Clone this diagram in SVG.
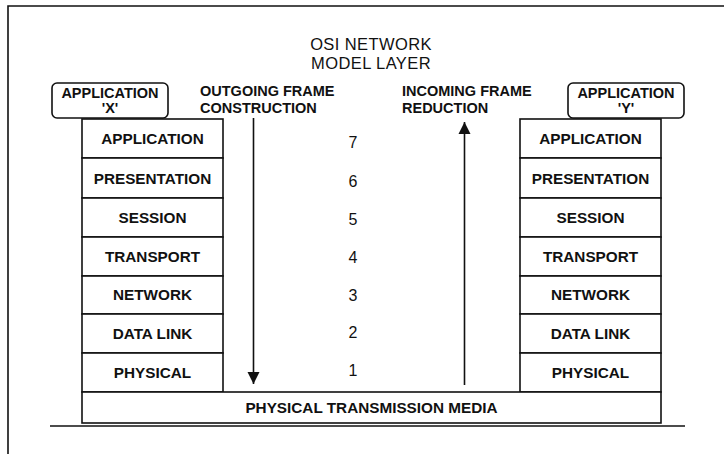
<svg xmlns="http://www.w3.org/2000/svg" width="724" height="454" viewBox="0 0 724 454">
<defs>
<style>
.box{fill:#fff;stroke:#111;stroke-width:1.6}
.ln{stroke:#111;stroke-width:1.6;fill:none}
.lbl{font-family:"Liberation Sans",Arial,sans-serif;font-weight:bold;font-size:15.3px;fill:#111;text-anchor:middle}
.app{font-family:"Liberation Sans",Arial,sans-serif;font-weight:bold;font-size:14.5px;fill:#111;text-anchor:middle}
.hdr{font-family:"Liberation Sans",Arial,sans-serif;font-weight:bold;font-size:14.5px;fill:#111}
.ttl{font-family:"Liberation Sans",Arial,sans-serif;font-size:16.5px;letter-spacing:0.4px;fill:#111;text-anchor:middle}
.num{font-family:"Liberation Sans",Arial,sans-serif;font-size:16px;fill:#111;text-anchor:middle}
</style>
<marker id="ah" viewBox="0 0 12 18" refX="12" refY="9" markerWidth="12" markerHeight="18" markerUnits="userSpaceOnUse" orient="auto">
<path d="M0,3 L12,9 L0,15 Z" fill="#111"/>
</marker>
</defs>
<rect width="724" height="454" fill="#fff"/>
<g id="frame">
<path class="ln" d="M8,454 V6 H724"/>
<line class="ln" x1="50" y1="426" x2="685" y2="426"/>
</g>
<g id="title">
<text class="ttl" x="371" y="50">OSI NETWORK</text>
<text class="ttl" x="371" y="69">MODEL LAYER</text>
</g>
<g id="headers">
<text class="hdr" x="200" y="96">OUTGOING FRAME</text>
<text class="hdr" x="200" y="113">CONSTRUCTION</text>
<text class="hdr" x="402" y="96">INCOMING FRAME</text>
<text class="hdr" x="402" y="113">REDUCTION</text>
</g>
<g id="app-x">
<rect class="box" x="52" y="83" width="116" height="35" rx="5"/>
<text class="app" x="110" y="98">APPLICATION</text>
<text class="app" x="110" y="113">'X'</text>
</g>
<g id="app-y">
<rect class="box" x="568" y="83" width="116" height="35" rx="5"/>
<text class="app" x="626" y="98">APPLICATION</text>
<text class="app" x="626" y="113">'Y'</text>
</g>
<g id="stack-x">
<rect class="box" x="82" y="119" width="141" height="39"/>
<text class="lbl" x="152.5" y="144">APPLICATION</text>
<rect class="box" x="82" y="158" width="141" height="40"/>
<text class="lbl" x="152.5" y="184">PRESENTATION</text>
<rect class="box" x="82" y="198" width="141" height="39"/>
<text class="lbl" x="152.5" y="223">SESSION</text>
<rect class="box" x="82" y="237" width="141" height="39"/>
<text class="lbl" x="152.5" y="262">TRANSPORT</text>
<rect class="box" x="82" y="276" width="141" height="38"/>
<text class="lbl" x="152.5" y="300">NETWORK</text>
<rect class="box" x="82" y="314" width="141" height="39"/>
<text class="lbl" x="152.5" y="339">DATA LINK</text>
<rect class="box" x="82" y="353" width="141" height="39"/>
<text class="lbl" x="152.5" y="378">PHYSICAL</text>
</g>
<g id="stack-y">
<rect class="box" x="520" y="119" width="141" height="39"/>
<text class="lbl" x="590.5" y="144">APPLICATION</text>
<rect class="box" x="520" y="158" width="141" height="40"/>
<text class="lbl" x="590.5" y="184">PRESENTATION</text>
<rect class="box" x="520" y="198" width="141" height="39"/>
<text class="lbl" x="590.5" y="223">SESSION</text>
<rect class="box" x="520" y="237" width="141" height="39"/>
<text class="lbl" x="590.5" y="262">TRANSPORT</text>
<rect class="box" x="520" y="276" width="141" height="38"/>
<text class="lbl" x="590.5" y="300">NETWORK</text>
<rect class="box" x="520" y="314" width="141" height="39"/>
<text class="lbl" x="590.5" y="339">DATA LINK</text>
<rect class="box" x="520" y="353" width="141" height="39"/>
<text class="lbl" x="590.5" y="378">PHYSICAL</text>
</g>
<g id="media">
<rect class="box" x="82" y="392" width="579" height="31"/>
<text class="lbl" x="371.5" y="413">PHYSICAL TRANSMISSION MEDIA</text>
</g>
<g id="layer-numbers">
<text class="num" x="353" y="148">7</text>
<text class="num" x="353" y="187">6</text>
<text class="num" x="353" y="225">5</text>
<text class="num" x="353" y="263">4</text>
<text class="num" x="353" y="301">3</text>
<text class="num" x="353" y="338">2</text>
<text class="num" x="353" y="376">1</text>
</g>
<g id="connectors">
<line class="ln" x1="253.5" y1="118" x2="253.5" y2="384" marker-end="url(#ah)"/>
<line class="ln" x1="464.5" y1="385" x2="464.5" y2="122" marker-end="url(#ah)"/>
</g>
</svg>
